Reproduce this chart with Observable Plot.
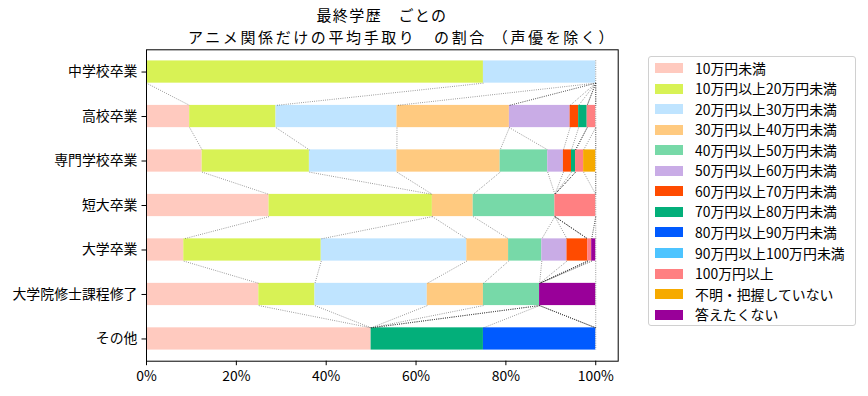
<!DOCTYPE html>
<html>
<head>
<meta charset="utf-8">
<script src="https://cdn.jsdelivr.net/npm/d3@7"></script>
<script src="https://cdn.jsdelivr.net/npm/@observablehq/plot@0.6"></script>
<style>
  html, body { margin: 0; padding: 0; background: #fff; }
  body { width: 868px; height: 396px; position: relative; overflow: hidden;
         font-family: "Noto Sans CJK JP", "Noto Sans", sans-serif; color: #000; }
  .title-line { position: absolute; height: 18px; text-align: center;
                font-size: 15px; line-height: 18px; white-space: nowrap; overflow: visible; }
  #title1 { top: 5.5px; left: 0; width: 764px; letter-spacing: 1.4px; }
  #title2 { top: 27.5px; left: 20px; width: 764px; letter-spacing: 2.6px; }
  #chart { position: absolute; left: 0; top: 44px; }
  #legend { position: absolute; left: 648px; top: 56px; width: 208px; height: 270px;
            border: 1px solid #d0d0d0; border-radius: 3px; background: #fff; box-sizing: border-box; }
  .lg-patch { position: absolute; left: 6px; width: 28px; height: 10px; }
  .lg-text { position: absolute; left: 46px; font-size: 13.9px; line-height: 16px; white-space: nowrap; }
</style>
</head>
<body>
<div id="title1" class="title-line">最終学歴　ごとの</div>
<div id="title2" class="title-line">アニメ関係だけの平均手取り　の割合 （声優を除く）</div>
<div id="chart"></div>
<div id="legend"></div>
<script>
// ---- data ----
const rows = ["中学校卒業", "高校卒業", "専門学校卒業", "短大卒業", "大学卒業", "大学院修士課程修了", "その他"];
const categories = [
  "10万円未満", "10万円以上20万円未満", "20万円以上30万円未満", "30万円以上40万円未満",
  "40万円以上50万円未満", "50万円以上60万円未満", "60万円以上70万円未満", "70万円以上80万円未満",
  "80万円以上90万円未満", "90万円以上100万円未満", "100万円以上", "不明・把握していない", "答えたくない"
];
const colors = [
  "#FFCABF", "#D8F255", "#BFE4FF", "#FFCA80", "#77D9A8", "#C9ACE6", "#FF4B00",
  "#03AF7A", "#005AFF", "#4DC4FF", "#FF8082", "#F6AA00", "#990099"
];
// percentages per row, in category order
const juniorHigh    = [0, 75, 25, 0, 0, 0, 0, 0, 0, 0, 0, 0, 0];
const highSchool    = [9.6, 19.2, 26.9, 25.0, 0, 13.5, 1.9, 1.9, 0, 0, 1.9, 0, 0];
const vocational    = [12.4, 23.9, 19.5, 23.0, 10.6, 3.5, 1.8, 0.9, 0, 0, 1.8, 2.7, 0];
const juniorCollege = [27.3, 36.4, 0, 9.1, 18.2, 0, 0, 0, 0, 0, 9.1, 0, 0];
const university    = [8.3, 30.6, 32.4, 9.3, 7.4, 5.6, 4.6, 0, 0, 0, 0.9, 0, 0.9];
const graduate      = [25, 12.5, 25, 12.5, 12.5, 0, 0, 0, 0, 0, 0, 0, 12.5];
const other         = [50, 0, 0, 0, 0, 0, 0, 25, 25, 0, 0, 0, 0];
const xTicks = [0, 20, 40, 60, 80, 100];

// ---- derived tables ----
const table = [juniorHigh, highSchool, vocational, juniorCollege, university, graduate, other];
const segments = [];
const cumEnds = [];
table.forEach((vals, i) => {
  const total = d3.sum(vals);
  let cum = 0;
  const ends = [];
  vals.forEach((v, k) => {
    const s = v / total * 100;
    if (s > 0) segments.push({row: i, cat: categories[k], x1: cum, x2: cum + s});
    cum += s;
    ends.push(cum);
  });
  cumEnds.push(ends);
});
const links = [];
for (let i = 0; i < rows.length - 1; i++) {
  categories.forEach((c, k) => {
    links.push({x1: cumEnds[i][k], x2: cumEnds[i + 1][k], y1: i + 0.25, y2: i + 0.75});
  });
}
const rowIdx = rows.map((r, i) => i);

const dotted = {stroke: "#333", strokeOpacity: 0.75, strokeWidth: 0.8, strokeDasharray: "0.8,1.4"};

const chart = Plot.plot({
  width: 868,
  height: 352,
  marginLeft: 146,
  marginRight: 250.3,
  marginTop: 5.3,
  marginBottom: 35.3,
  style: {fontFamily: '"Noto Sans CJK JP", "Noto Sans", sans-serif', fontSize: "13.9px", color: "#000", background: "transparent", overflow: "visible"},
  x: {domain: [0, 105]},
  y: {domain: [6.5, -0.5]},
  color: {domain: categories, range: colors},
  marks: [
    Plot.rect(segments, {x1: "x1", x2: "x2", y1: d => d.row - 0.25, y2: d => d.row + 0.25, fill: "cat"}),
    Plot.link(links, {x1: "x1", y1: "y1", x2: "x2", y2: "y2", ...dotted}),
    Plot.ruleX(rowIdx, {x: 100, y1: d => d - 0.25, y2: d => d + 0.25, ...dotted}),
    Plot.axisX({ticks: xTicks, tickFormat: d => d + "%", tickSize: 4.5, tickPadding: 5, label: null, fontSize: "13.9px"}),
    Plot.axisY({ticks: rowIdx, tickFormat: i => rows[i], tickSize: 4.5, tickPadding: 4.5, label: null, fontSize: "13.9px"}),
    Plot.frame({stroke: "#000", strokeWidth: 1})
  ]
});
document.getElementById("chart").appendChild(chart);

// ---- legend ----
const legend = document.getElementById("legend");
categories.forEach((c, k) => {
  const cy = 11 + k * 20.56;
  const p = document.createElement("div");
  p.className = "lg-patch";
  p.style.top = (cy - 5) + "px";
  p.style.background = colors[k];
  legend.appendChild(p);
  const t = document.createElement("div");
  t.className = "lg-text";
  t.style.top = (cy - 8.5) + "px";
  t.textContent = c;
  legend.appendChild(t);
});
</script>
</body>
</html>
